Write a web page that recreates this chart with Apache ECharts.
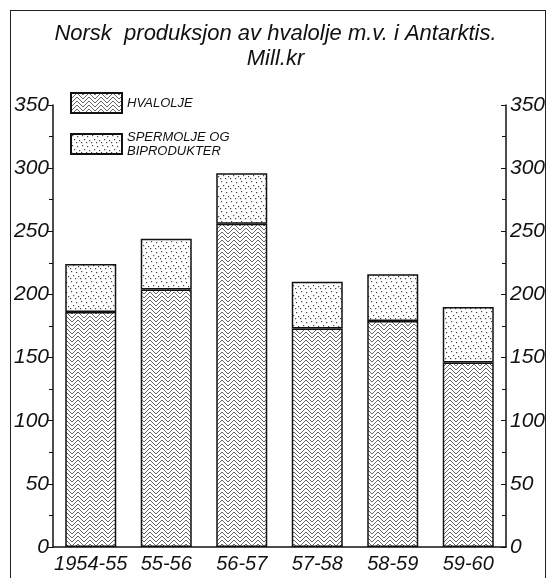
<!DOCTYPE html>
<html>
<head>
<meta charset="utf-8">
<script src="https://cdn.jsdelivr.net/npm/echarts@6/dist/echarts.min.js"></script>
<style>
	html, body { margin: 0; padding: 0; background: #fff; }
	#wrap { position: relative; width: 551px; height: 578px; }
	#charts { width: 551px; height: 578px; }
	#frame {
		position: absolute; left: 10px; top: 10px; width: 534px; height: 580px;
		border: 1.5px solid #222; border-bottom: none; pointer-events: none;
	}
</style>
</head>
<body>
<div id="wrap">
	<div id="charts"></div>
	<div id="frame"></div>
</div>
<script>
// data (mill. kr)
const seasons = ['1954-55', '55-56', '56-57', '57-58', '58-59', '59-60']
const hvalolje = [186, 204, 256, 173, 179, 146]
const spermolje = [38, 40, 40, 37, 37, 44]
const yTicks = [0, 50, 100, 150, 200, 250, 300, 350]

const FONT = 'Liberation Sans'

// zigzag hatching for whale oil
const zigzag = () => {
	const c = document.createElement('canvas')
	c.width = 12
	c.height = 4
	const ctx = c.getContext('2d')
	ctx.fillStyle = '#fff'
	ctx.fillRect(0, 0, 12, 4)
	ctx.strokeStyle = '#555'
	ctx.lineWidth = 0.9
	for (let k = -3; k <= 3; k++) {
		const y0 = k * 4
		ctx.beginPath()
		ctx.moveTo(0, y0 + 6)
		ctx.lineTo(6, y0)
		ctx.lineTo(12, y0 + 6)
		ctx.stroke()
	}
	return c
}

// fine stipple for sperm oil / by-products
const dots = () => {
	const c = document.createElement('canvas')
	c.width = 10
	c.height = 10
	const ctx = c.getContext('2d')
	ctx.fillStyle = '#fff'
	ctx.fillRect(0, 0, 10, 10)
	ctx.fillStyle = '#444'
	const pts = [[1, 1], [6, 2], [3, 5], [8, 6], [5, 8], [0, 8]]
	pts.forEach(([x, y]) => ctx.fillRect(x, y, 1.2, 1.2))
	return c
}

const chart = echarts.init(document.getElementById('charts'), null, { renderer: 'canvas' })

const axisLabel = {
	fontFamily: FONT,
	fontStyle: 'italic',
	fontSize: 21,
	color: '#111'
}

const yAxisBase = {
	type: 'value',
	min: yTicks[0],
	max: yTicks[yTicks.length - 1],
	interval: yTicks[1] - yTicks[0],
	splitLine: { show: false },
	axisLine: { show: true, lineStyle: { color: '#111', width: 1.5 } },
	axisTick: { show: true, length: 5, lineStyle: { color: '#111', width: 1 } },
	minorTick: { show: true, splitNumber: 2, length: 4, lineStyle: { color: '#111', width: 1 } },
	axisLabel: { ...axisLabel, margin: 4 }
}

chart.setOption({
	backgroundColor: '#fff',
	animation: false,
	title: {
		text: 'Norsk  produksjon av hvalolje m.v. i Antarktis.\nMill.kr',
		left: 'center',
		top: 16,
		textStyle: {
			fontFamily: FONT,
			fontStyle: 'italic',
			fontWeight: 'normal',
			fontSize: 22,
			lineHeight: 25,
			color: '#111'
		}
	},
	legend: {
		orient: 'vertical',
		left: 65,
		top: 87,
		icon: 'rect',
		itemWidth: 51,
		itemHeight: 20,
		itemGap: 16,
		selectedMode: false,
		formatter: n => n.replace('OG ', 'OG\n'),
		textStyle: {
			fontFamily: FONT,
			fontStyle: 'italic',
			fontSize: 13,
			lineHeight: 14,
			color: '#111'
		}
	},
	grid: {
		left: 53,
		right: 45,
		top: 105,
		bottom: 31
	},
	xAxis: {
		type: 'category',
		data: seasons,
		axisLine: { show: true, lineStyle: { color: '#111', width: 1.5 } },
		axisTick: { show: false },
		axisLabel: { ...axisLabel, fontSize: 20, margin: 7, interval: 0, hideOverlap: false }
	},
	yAxis: [
		{ ...yAxisBase, position: 'left' },
		{ ...yAxisBase, position: 'right', axisTick: { ...yAxisBase.axisTick, inside: true } }
	],
	series: [
		{
			name: 'HVALOLJE',
			type: 'bar',
			stack: 'total',
			barWidth: 51,
			data: hvalolje,
			itemStyle: {
				color: { image: zigzag(), repeat: 'repeat' },
				borderColor: '#111',
				borderWidth: 1.5
			}
		},
		{
			name: 'SPERMOLJE OG BIPRODUKTER',
			type: 'bar',
			stack: 'total',
			barWidth: 51,
			data: spermolje,
			itemStyle: {
				color: { image: dots(), repeat: 'repeat' },
				borderColor: '#111',
				borderWidth: 1.5
			}
		}
	]
})
</script>
</body>
</html>
